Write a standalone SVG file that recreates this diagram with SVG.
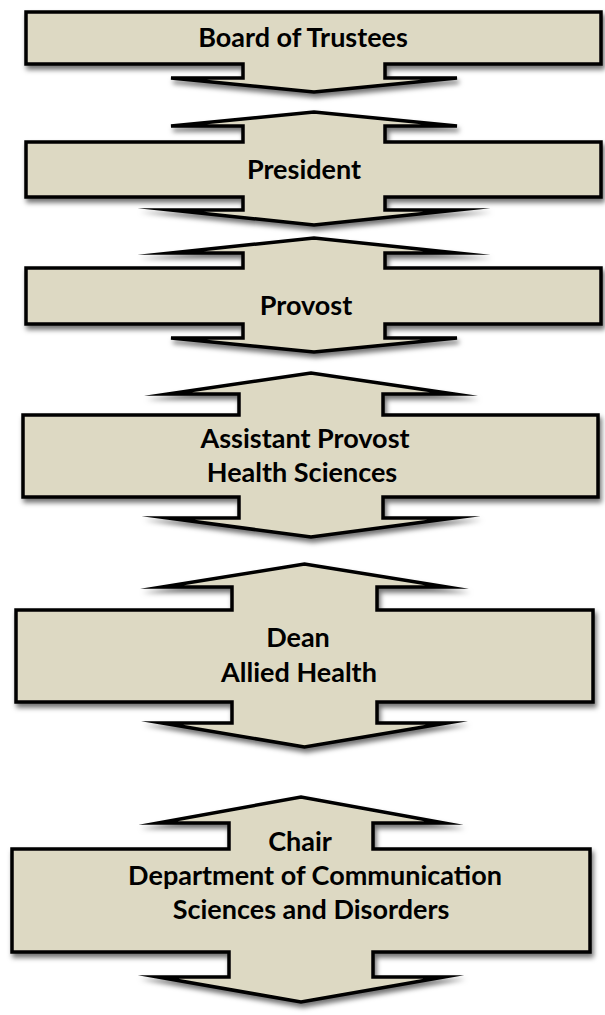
<svg xmlns="http://www.w3.org/2000/svg" width="605" height="1015" viewBox="0 0 605 1015">
<style>
.shape{fill:#DDD9C3;stroke:#000;stroke-width:3.5;stroke-linejoin:miter;stroke-miterlimit:20;filter:url(#shadow)}
.label{font-family:Lato,"Liberation Sans",sans-serif;font-weight:bold;font-size:27px;fill:#000;text-anchor:middle}
</style>
<defs>
<filter id="shadow" x="-10%" y="-20%" width="125%" height="150%">
<feDropShadow dx="2" dy="4" stdDeviation="2.5" flood-color="#000" flood-opacity="0.55"/>
</filter>
</defs>
<rect width="605" height="1015" fill="#fff"/>
<g id="connectors"/>
<g id="board">
<polygon class="shape" points="26,12 601,12 601,64 385,64 385,78 457,78 314,92 171,78 243,78 243,64 26,64"/>
<text class="label" x="303" y="47">Board of Trustees</text>
</g>
<g id="president">
<polygon class="shape" points="26,142 243,142 243,126 171,126 314,112 457,126 385,126 385,142 601,142 601,197 385,197 385,210 457,210 314,225 171,210 243,210 243,197 26,197"/>
<text class="label" x="304" y="179">President</text>
</g>
<g id="provost">
<polygon class="shape" points="26,268 243,268 243,253 171,253 314,238 457,253 385,253 385,268 601,268 601,324 385,324 385,338 457,338 314,352 171,338 243,338 243,324 26,324"/>
<text class="label" x="306" y="315">Provost</text>
</g>
<g id="assistant-provost">
<polygon class="shape" points="23,415 239,415 239,394 168,394 311,373 454,394 383,394 383,415 598,415 598,497 383,497 383,518 454,518 311,537 168,518 239,518 239,497 23,497"/>
<text class="label" x="305" y="448">Assistant Provost</text>
<text class="label" x="302" y="482">Health Sciences</text>
</g>
<g id="dean">
<polygon class="shape" points="16,610 232,610 232,587 162,587 304.5,564 447,587 377,587 377,610 593,610 593,702 377,702 377,723 447,723 304.5,747 162,723 232,723 232,702 16,702"/>
<text class="label" x="298" y="647">Dean</text>
<text class="label" x="299" y="682">Allied Health</text>
</g>
<g id="chair">
<polygon class="shape" points="12,849 229,849 229,823 158,823 301,797 444,823 373,823 373,849 590,849 590,952 373,952 373,977 444,977 301,1002 158,977 229,977 229,952 12,952"/>
<text class="label" x="300" y="851">Chair</text>
<text class="label" x="315" y="885">Department of Communication</text>
<text class="label" x="311" y="919">Sciences and Disorders</text>
</g>
</svg>
